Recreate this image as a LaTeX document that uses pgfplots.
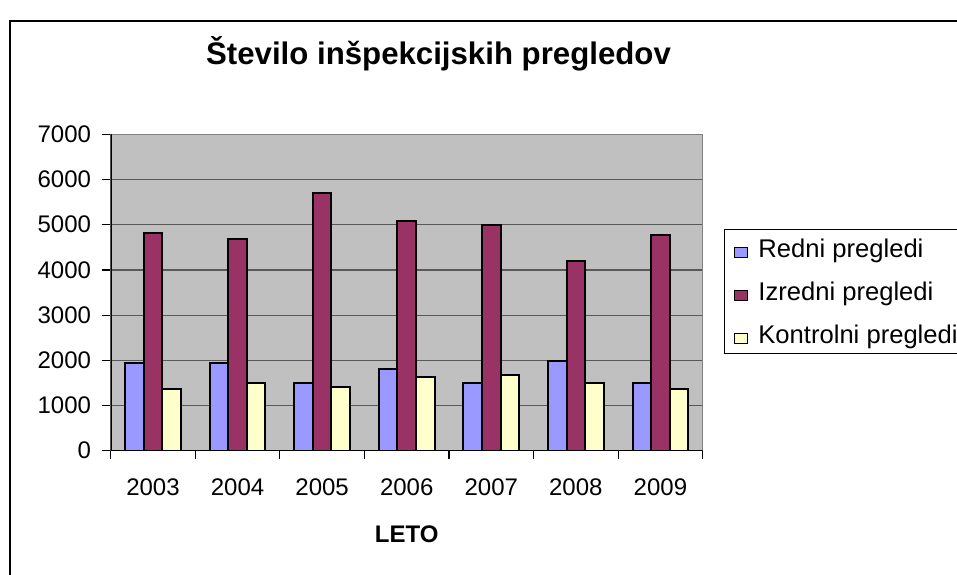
\documentclass[border=0pt]{standalone}
\usepackage{fontspec}
\setmainfont{Liberation Sans}
\usepackage{pgfplots}
\pgfplotsset{compat=1.18}
\definecolor{redni}{HTML}{9999FF}
\definecolor{izredni}{HTML}{993366}
\definecolor{kontrolni}{HTML}{FFFFCC}
\definecolor{plotbg}{HTML}{C0C0C0}

\begin{document}
\begin{tikzpicture}
\useasboundingbox (0,0) rectangle (478.5pt,287pt);
% outer chart frame (right and bottom edges fall outside the picture)
\draw[line width=1pt] (4.9pt,-10pt) -- (4.9pt,276.5pt) -- (500pt,276.5pt);
\begin{axis}[
    at={(55.35pt,61.65pt)}, anchor=south west,
    scale only axis, width=296pt, height=158.2pt,
    xmin=-0.5, xmax=6.5, ymin=0, ymax=7000,
    ybar=0pt, bar width=0.22,
    axis background/.style={fill=plotbg},
    axis line style={draw=black!50, line width=0.6pt},
    ymajorgrids, grid style={black!65, line width=0.6pt},
    ytick={0,1000,...,7000},
    scaled y ticks=false,
    yticklabel style={/pgf/number format/1000 sep={}, xshift=-1.8pt},
    xtick={0,...,6},
    xticklabels={2003,2004,2005,2006,2007,2008,2009},
    minor xtick={-0.5,0.5,...,6.5},
    xtick pos=lower, ytick pos=left,
    tick align=outside, major tick length=4.5pt, minor tick length=4pt,
    x tick style={draw=none},
    minor x tick style={draw=black, line width=0.6pt},
    y tick style={draw=black, line width=0.6pt},
    xticklabel style={anchor=base, yshift=-18pt},
    tick label style={font=\fontsize{12}{14}\selectfont, /pgf/number format/assume math mode=true},
    xlabel={\bfseries LETO},
    xlabel style={font=\fontsize{12}{14}\selectfont, at={(axis description cs:0.5,0)}, anchor=base, yshift=-45.8pt},
    legend style={at={(1.036,0.6998)}, anchor=north west, draw=black, line width=0.6pt,
        fill=white, font=\fontsize{12.8}{14}\selectfont, inner xsep=4.5pt, inner ysep=3.5pt,
        row sep=9.5pt, column sep=5.3pt,
        nodes={inner sep=0pt, text height=10.5pt, text depth=1.5pt, anchor=base west}},
    legend cell align=left,
    legend image code/.code={\draw[#1, line width=0.6pt, draw=black] (0pt,0pt) rectangle (6.5pt,5pt);},
]
\addplot[fill=redni, draw=black, line width=1pt, bar shift=-0.22] coordinates
    {(0,1940) (1,1940) (2,1500) (3,1810) (4,1500) (5,1990) (6,1500)};
\addlegendentry{Redni pregledi}
\addplot[fill=izredni, draw=black, line width=1pt, bar shift=0] coordinates
    {(0,4820) (1,4690) (2,5710) (3,5080) (4,5000) (5,4200) (6,4780)};
\addlegendentry{Izredni pregledi}
\addplot[fill=kontrolni, draw=black, line width=1pt, bar shift=0.22] coordinates
    {(0,1370) (1,1500) (2,1420) (3,1630) (4,1670) (5,1500) (6,1370)};
\addlegendentry{Kontrolni pregledi}
\draw[black, line width=1pt] (rel axis cs:0,1) -- (rel axis cs:0,0) -- (rel axis cs:1,0);
\end{axis}
\node[anchor=base, font=\bfseries\fontsize{15.6}{18}\selectfont, inner sep=0pt] at (219.25pt,254.5pt) {Število inšpekcijskih pregledov};
\end{tikzpicture}
\end{document}
